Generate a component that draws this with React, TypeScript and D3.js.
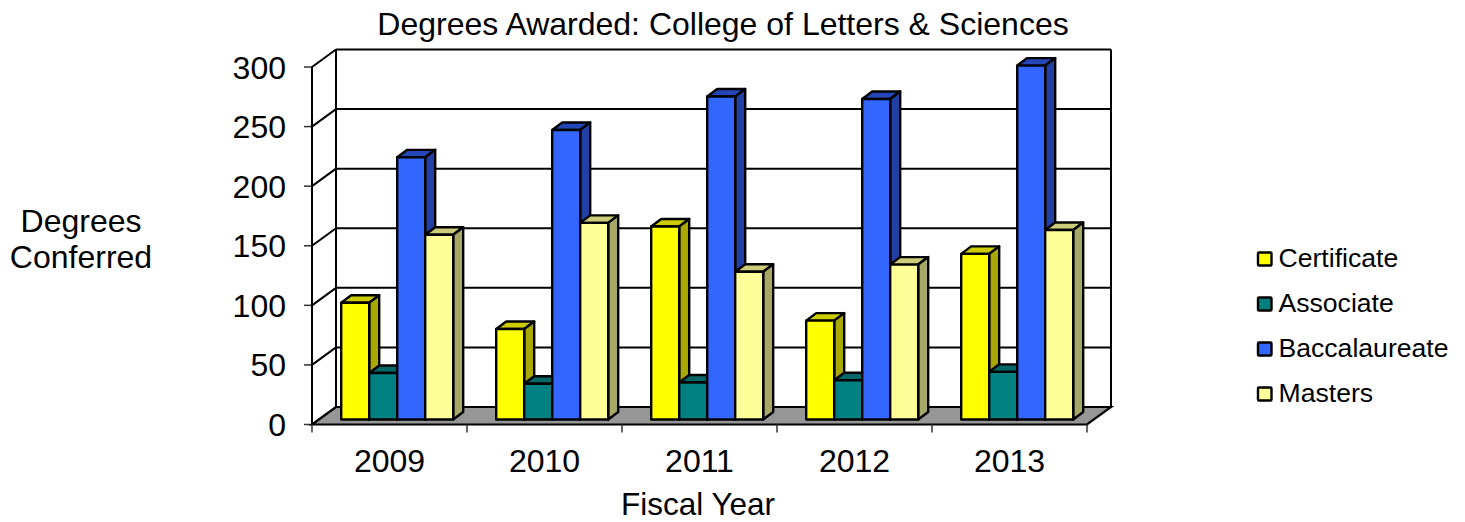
import React from "react";
import * as d3 from "d3";

const years = ["2009", "2010", "2011", "2012", "2013"];
const seriesNames = ["Certificate", "Associate", "Baccalaureate", "Masters"];
const certificate = [98, 76, 162, 83, 139];
const associate = [39, 30, 31, 33, 40];
const baccalaureate = [220, 243, 271, 269, 297];
const masters = [155, 165, 124, 130, 159];
const seriesValues = [certificate, associate, baccalaureate, masters];
const yTicks = [0, 50, 100, 150, 200, 250, 300];
const faceColors = ["#ffff00", "#008080", "#3366ff", "#ffff99"];
const topColors = ["#cccc00", "#006666", "#2447b8", "#cccc7a"];
const sideColors = ["#a8a800", "#006666", "#2240a4", "#a8a866"];

const FONT = "'Liberation Sans', Arial, sans-serif";
const depthX = 24, depthY = -17.5;
const barDepthX = 10, barDepthY = -7.5;
const barOffsetX = 7.7, barOffsetY = -5;

const y = d3.scaleLinear().domain([0, 300]).range([424.5, 67]);
const x0 = d3.scaleBand().domain(years).range([312, 1087]);
const x1 = d3.scaleBand().domain(seriesNames).range([21.5, 133.5]);
const stroke = "#000";

export default function App() {
  const x = x0.range()[0], xR = x0.range()[1];
  const floorY = y(0);
  const floor = [[x, floorY], [x + depthX, floorY + depthY], [xR + depthX, floorY + depthY], [xR, floorY]];
  return (
    <svg width={1465} height={522} style={{ position: "absolute", left: 0, top: 0, background: "#fff" }} fontFamily={FONT} fill="#000">
      {yTicks.map((t) => (
        <g key={t}>
          <line x1={x - 8} x2={x} y1={y(t)} y2={y(t)} stroke="#333" strokeWidth={1.5} />
          <line x1={x} x2={x + depthX} y1={y(t)} y2={y(t) + depthY} stroke={stroke} strokeWidth={2} />
          {t > 0 && <line x1={x + depthX} x2={xR + depthX} y1={y(t) + depthY} y2={y(t) + depthY} stroke={stroke} strokeWidth={2} />}
          <text x={286} y={y(t) + 11.5} textAnchor="end" fontSize={32}>{t}</text>
        </g>
      ))}
      <line x1={x} x2={x} y1={y(300)} y2={floorY} stroke={stroke} strokeWidth={2} />
      <line x1={x + depthX} x2={x + depthX} y1={y(300) + depthY} y2={floorY + depthY} stroke={stroke} strokeWidth={2} />
      <line x1={xR + depthX} x2={xR + depthX} y1={y(300) + depthY} y2={floorY + depthY} stroke={stroke} strokeWidth={2} />
      <polygon points={floor.map((p) => p.join(",")).join(" ")} fill="#969696" stroke={stroke} strokeWidth={2.2} />
      {[...years.map((yr) => x0(yr)!), xR].map((v) => (
        <line key={v} x1={v} x2={v} y1={floorY} y2={floorY + 8} stroke="#333" strokeWidth={1.5} />
      ))}
      {years.map((yr, i) => (
        <g key={yr}>
          {seriesNames.map((s, k) => {
            const bx = x0(yr)! + x1(s)! + barOffsetX;
            const bw = x1.bandwidth();
            const by = y(seriesValues[k][i]) + barOffsetY;
            const b0 = y(0) + barOffsetY;
            const r = bx + bw;
            return (
              <g key={s} stroke={stroke} strokeWidth={2.4} strokeLinejoin="round">
                <polygon points={`${bx},${by} ${bx + barDepthX},${by + barDepthY} ${r + barDepthX},${by + barDepthY} ${r},${by}`} fill={topColors[k]} />
                <polygon points={`${r},${by} ${r + barDepthX},${by + barDepthY} ${r + barDepthX},${b0 + barDepthY} ${r},${b0}`} fill={sideColors[k]} />
                <rect x={bx} y={by} width={bw} height={b0 - by} fill={faceColors[k]} />
              </g>
            );
          })}
          <text x={x0(yr)! + x0.bandwidth() / 2} y={472} textAnchor="middle" fontSize={32}>{yr}</text>
        </g>
      ))}
      <text x={723} y={35} textAnchor="middle" fontSize={32}>Degrees Awarded: College of Letters &amp; Sciences</text>
      <text x={698} y={515} textAnchor="middle" fontSize={31.5}>Fiscal Year</text>
      <text x={81} y={232} textAnchor="middle" fontSize={32}>Degrees</text>
      <text x={81} y={268} textAnchor="middle" fontSize={32}>Conferred</text>
      {seriesNames.map((s, k) => {
        const cy = 259 + k * 45;
        return (
          <g key={s}>
            <rect x={1258} y={cy - 6.5} width={13.5} height={13} fill={faceColors[k]} stroke={stroke} strokeWidth={2.4} rx={1} />
            <text x={1278.5} y={cy + 8} fontSize={26.6}>{s}</text>
          </g>
        );
      })}
    </svg>
  );
}
